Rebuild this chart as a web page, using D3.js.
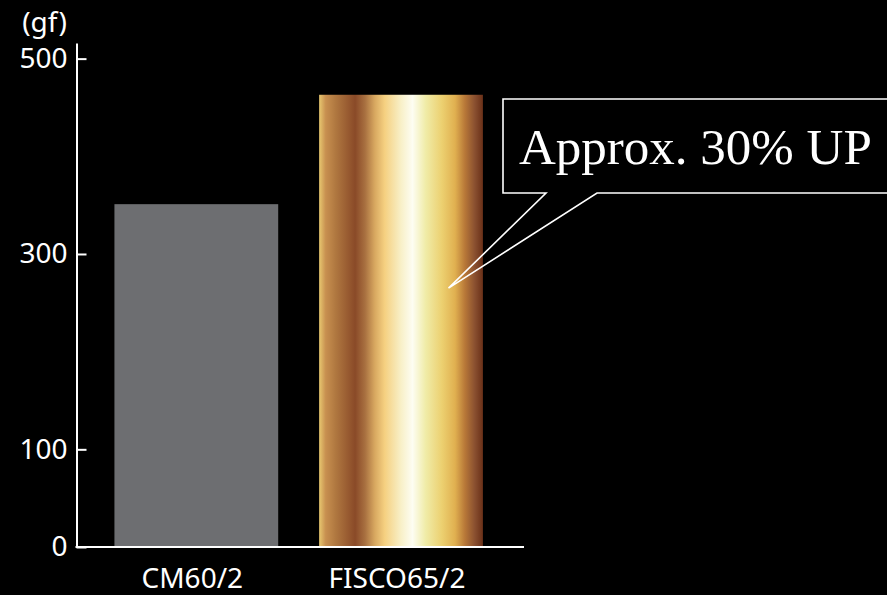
<!DOCTYPE html>
<html>
<head>
<meta charset="utf-8">
<script src="https://cdn.jsdelivr.net/npm/d3@7"></script>
<style>
  body { margin: 0; background: #000; }
  svg { display: block; }
</style>
</head>
<body>
<div id="chart"></div>
<script>
const categories = ['CM60/2', 'FISCO65/2'];
const values = [351, 463];
const yTicks = [0, 100, 300, 500];
const unitLabel = '(gf)';
const calloutText = 'Approx. 30% UP';

const goldStops = [
  [0, '#e8c870'], [0.04, '#c89050'], [0.1, '#b07840'], [0.22, '#8a4a28'],
  [0.28, '#a87040'], [0.34, '#d8a860'], [0.4, '#f5d080'], [0.5, '#f8f0c8'],
  [0.57, '#fdfdf2'], [0.65, '#f0eca8'], [0.75, '#ecd070'], [0.83, '#e0b050'],
  [0.89, '#b87838'], [0.95, '#8a5030'], [1, '#6a3018'],
];

const dimensions = { width: 887, height: 595 };

const svg = d3.select('#chart').append('svg')
  .attr('width', dimensions.width)
  .attr('height', dimensions.height)
  .style('background', '#000');

const grad = svg.append('defs').append('linearGradient')
  .attr('id', 'gold').attr('x1', 0).attr('x2', 1).attr('y1', 0).attr('y2', 0);
grad.selectAll('stop').data(goldStops).join('stop')
  .attr('offset', (d) => d[0])
  .attr('stop-color', (d) => d[1]);

const xScale = d3.scaleBand().domain(categories).range([76.5, 524])
  .paddingInner(0.2).paddingOuter(0.193).align(0.48);
const yScale = d3.scaleLinear().domain([0, 516]).range([547, 43]);

const font = '"Noto Sans", sans-serif';

svg.selectAll('rect.bar')
  .data(categories)
  .join('rect')
  .attr('class', 'bar')
  .attr('x', (d) => xScale(d))
  .attr('width', xScale.bandwidth())
  .attr('y', (d, i) => yScale(values[i]))
  .attr('height', (d, i) => yScale(0) - yScale(values[i]))
  .attr('fill', (d, i) => (i === 0 ? '#6d6e71' : 'url(#gold)'));

// y axis, ticks point inward
const yAxis = d3.axisLeft(yScale).tickValues(yTicks).tickSizeInner(-10).tickSizeOuter(0).tickPadding(9);
const yAxisGroup = svg.append('g').attr('transform', 'translate(76.5,0)').call(yAxis);
yAxisGroup.selectAll('path, line').attr('stroke', '#fff').attr('stroke-width', 2);
yAxisGroup.selectAll('text').attr('fill', '#fff').style('font', `28px ${font}`);

// x axis
const xAxis = d3.axisBottom(xScale).tickSize(0).tickPadding(21);
const xAxisGroup = svg.append('g').attr('transform', 'translate(0,547)').call(xAxis);
xAxisGroup.select('.domain').attr('stroke', '#fff').attr('stroke-width', 2).attr('d', 'M75.5,0H524');
xAxisGroup.selectAll('text').attr('fill', '#fff').attr('dx', -4).style('font', `28px ${font}`);

svg.append('text')
  .attr('x', 67).attr('y', 32)
  .attr('text-anchor', 'end')
  .attr('fill', '#fff')
  .style('font', `28px ${font}`)
  .text(unitLabel);

// callout bubble pointing at the gold bar
const tipX = xScale(categories[1]) + xScale.bandwidth() * 0.79;
const tipY = yScale(265);
const callout = d3.path();
callout.moveTo(546, 193);
callout.lineTo(503, 193);
callout.lineTo(503, 99);
callout.lineTo(900, 99);
callout.lineTo(900, 193);
callout.lineTo(597, 193);
callout.lineTo(tipX, tipY);
callout.closePath();
svg.append('path')
  .attr('d', callout.toString())
  .attr('fill', 'none')
  .attr('stroke', '#fff')
  .attr('stroke-width', 1.6);

svg.append('text')
  .attr('x', 519).attr('y', 164)
  .attr('fill', '#fff')
  .style('font', '51px "Liberation Serif", serif')
  .text(calloutText);
</script>
</body>
</html>
